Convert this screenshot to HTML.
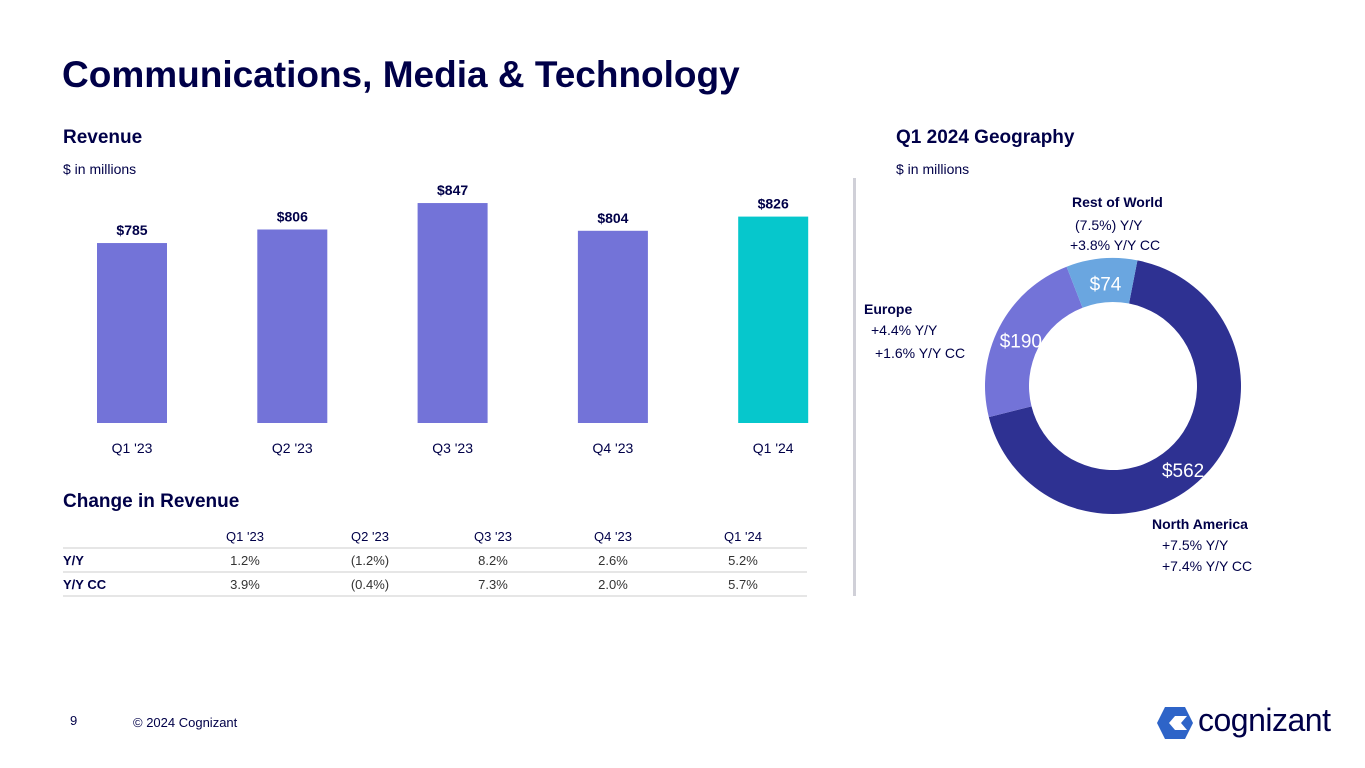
<!DOCTYPE html>
<html><head><meta charset="utf-8"><style>
body{margin:0;width:1365px;height:768px;background:#fff;font-family:"Liberation Sans",sans-serif;color:#000048;position:relative;overflow:hidden}
.a{position:absolute;white-space:nowrap}
.b{font-weight:bold}
</style></head><body>
<div class="a b" style="left:62px;top:54px;font-size:37px">Communications, Media &amp; Technology</div>
<div class="a b" style="left:63px;top:127px;font-size:19px">Revenue</div>
<div class="a" style="left:63px;top:161px;font-size:14px">$ in millions</div>
<div class="a b" style="left:896px;top:127px;font-size:19px">Q1 2024 Geography</div>
<div class="a" style="left:896px;top:161px;font-size:14px">$ in millions</div>
<div class="a" style="left:853px;top:178px;width:3px;height:418px;background:#d0d0d8"></div>
<svg class="a" style="left:0;top:0" width="1365" height="768" id="svg"></svg>
<div class="a b" style="left:63px;top:491px;font-size:19px">Change in Revenue</div>
<div class="a" style="left:70px;top:713px;font-size:13px">9</div>
<div class="a" style="left:133px;top:715px;font-size:13px">© 2024 Cognizant</div>
<svg class="a" style="left:1155px;top:705px" width="40" height="36"><polygon points="10,2 30,2 38,18 30,34 10,34 2,18" fill="#2e64c8"/><polygon points="14,18 20,11 32,11 26,18 32,25 20,25" fill="#fff"/></svg>
<div class="a" style="left:1198px;top:702px;font-size:32px;letter-spacing:-0.5px">cognizant</div>
<script>
const quarters=["Q1 '23","Q2 '23","Q3 '23","Q4 '23","Q1 '24"];
const revenue=[785,806,847,804,826];
const revLabels=["$785","$806","$847","$804","$826"];
const yoy=["1.2%","(1.2%)","8.2%","2.6%","5.2%"];
const yoyCC=["3.9%","(0.4%)","7.3%","2.0%","5.7%"];
const geoNames=["North America","Europe","Rest of World"];
const geoValues=[562,190,74];
const geoLabels=["$562","$190","$74"];
const NS="http://www.w3.org/2000/svg",svg=document.getElementById('svg');
function mk(t,a,txt){const e=document.createElementNS(NS,t);for(const k in a)e.setAttribute(k,a[k]);if(txt!=null)e.textContent=txt;svg.appendChild(e);return e;}
const base=423,k=0.645,vmin=506;
const y=v=>base-(v-vmin)*k;
const xc=i=>132+i*160.3;
revenue.forEach((v,i)=>{
 const r=mk('rect',{x:xc(i)-35,y:y(v),width:70,height:base-y(v),fill:i==4?'#06c7cc':'#7373d8'});
 
 
 const t=mk('text',{x:xc(i),y:y(v)-8,'text-anchor':'middle','font-size':14,'font-weight':'bold',fill:'#000048'},revLabels[i]);
 
 
 const q=mk('text',{x:xc(i),y:453,'text-anchor':'middle','font-size':14,fill:'#000048'},quarters[i]);
 
 
});
const cx=[245,370,493,613,743];
quarters.forEach((q,i)=>{
 const t=mk('text',{x:cx[i],y:541,'text-anchor':'middle','font-size':13,fill:'#000048'},q);
 
 
 const a=mk('text',{x:cx[i],y:565,'text-anchor':'middle','font-size':13,fill:'#333'},yoy[i]);
 
 
 const b=mk('text',{x:cx[i],y:589,'text-anchor':'middle','font-size':13,fill:'#333'},yoyCC[i]);
 
 
});
mk('text',{x:63,y:565,'font-size':13,'font-weight':'bold',fill:'#000048'},'Y/Y');
mk('text',{x:63,y:589,'font-size':13,'font-weight':'bold',fill:'#000048'},'Y/Y CC');
[548,572,596].forEach(yy=>mk('line',{x1:63,x2:807,y1:yy,y2:yy,stroke:'#ccc','stroke-width':1}));
const dcx=1113,dcy=386,R=128,ri=84,cols=['#2e3192','#7373d8','#6aa6e0'];
const tot=geoValues.reduce((a,b)=>a+b,0);let ang=11;
function pt(r,a){const rad=(a-90)*Math.PI/180;return [dcx+r*Math.cos(rad),dcy+r*Math.sin(rad)];}
geoValues.forEach((v,i)=>{
 const sw=v/tot*360,a0=ang,a1=ang+sw,lg=sw>180?1:0;
 const p1=pt(R,a0),p2=pt(R,a1),p3=pt(ri,a1),p4=pt(ri,a0);
 const p=mk('path',{d:`M${p1}A${R},${R} 0 ${lg} 1 ${p2}L${p3}A${ri},${ri} 0 ${lg} 0 ${p4}Z`,fill:cols[i]});
 
 
 const m=(a0+a1)/2;let lp=pt((R+ri)/2,m);
 if(i==0)lp=pt((R+ri)/2,140);
 const t=mk('text',{x:lp[0]+2,y:lp[1]+10,'text-anchor':'middle','font-size':19,fill:'#fff'},geoLabels[i]);
 
 
 ang=a1;
});
function lbl(x,yy,s,b){mk('text',{x:x,y:yy,'font-size':14,'font-weight':b?'bold':'normal',fill:'#000048'},s);}
lbl(1072,207,'Rest of World',1);lbl(1075,230,'(7.5%) Y/Y');lbl(1070,250,'+3.8%  Y/Y CC');
lbl(864,314,'Europe',1);lbl(871,335,'+4.4%  Y/Y');lbl(875,358,'+1.6%  Y/Y CC');
lbl(1152,529,'North America',1);lbl(1162,550,'+7.5%  Y/Y');lbl(1162,571,'+7.4%  Y/Y CC');
</script>
</body></html>
